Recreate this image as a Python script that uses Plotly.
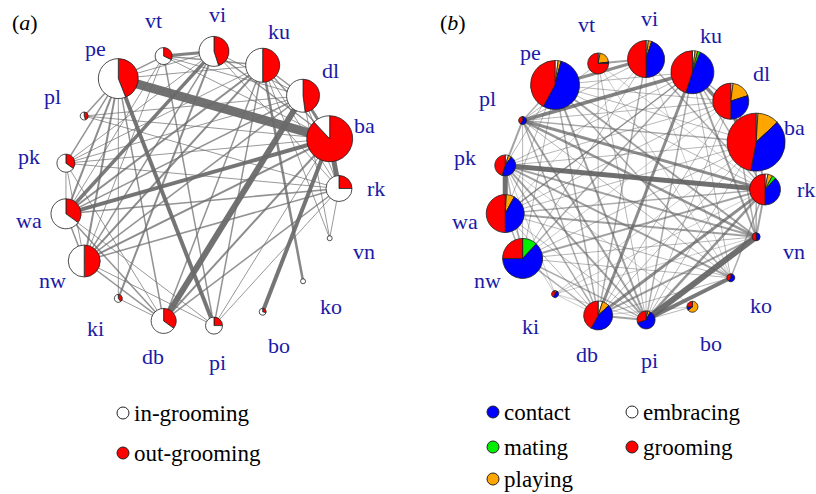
import math
import plotly.graph_objects as go

# ---------------- data ----------------
nodes = ["rk", "ba", "dl", "ku", "vi", "vt", "pe", "pl", "pk", "wa",
         "nw", "ki", "db", "pi", "bo", "ko", "vn"]

# panel (a): node size (strength) and in/out-grooming shares
size_a = [13, 23, 16.5, 17, 15, 8.5, 20, 4, 9, 15, 16, 4, 12.5, 8.5, 3.5, 2.5, 2.5]
in_groom = [0.75, 0.12, 0.52, 0.50, 0.55, 0.68, 0.56, 0.55, 0.65, 0.65,
            0.50, 0.60, 0.65, 0.75, 0.70, 1.0, 1.0]
out_groom = [0.25, 0.88, 0.48, 0.50, 0.45, 0.32, 0.44, 0.45, 0.35, 0.35,
             0.50, 0.40, 0.35, 0.25, 0.30, 0.0, 0.0]

edges_a = [
    ("pe", "ba", 9), ("db", "dl", 6), ("ba", "rk", 5), ("pe", "pi", 4), ("ba", "bo", 4),
    ("wa", "ba", 4), ("wa", "vi", 3.5), ("vi", "vt", 3), ("dl", "ba", 3), ("ku", "ko", 2.5),
    ("nw", "ba", 2), ("nw", "ku", 2), ("nw", "dl", 1.5), ("nw", "rk", 1.5), ("nw", "vi", 1.5),
    ("nw", "pe", 2), ("nw", "wa", 1.5), ("nw", "db", 1.5), ("nw", "pk", 1), ("wa", "pe", 2),
    ("wa", "ku", 2), ("wa", "dl", 1.5), ("wa", "rk", 1.5), ("wa", "pk", 1), ("wa", "db", 1.5),
    ("pk", "pe", 1.5), ("pk", "ba", 1), ("pk", "ku", 1), ("pk", "dl", 1), ("pk", "vi", 1),
    ("pk", "rk", 1), ("pl", "pe", 1.5), ("pl", "ba", 1), ("pl", "dl", 1), ("pe", "vt", 1.5),
    ("pe", "ku", 1), ("pe", "db", 1.5), ("pe", "vi", 1), ("ki", "vi", 2), ("ki", "pe", 1),
    ("db", "ku", 1.5), ("db", "ba", 2), ("db", "rk", 1.5), ("db", "pk", 1), ("pi", "ku", 1.5),
    ("pi", "rk", 1), ("pi", "ba", 1), ("pi", "nw", 1), ("pi", "wa", 1), ("pi", "vt", 1.5),
    ("vn", "ku", 1), ("vn", "dl", 1), ("vn", "rk", 1), ("vt", "ba", 1), ("vt", "dl", 1),
    ("vi", "dl", 1), ("vi", "ba", 1.5), ("vi", "rk", 1), ("ku", "dl", 1.5), ("ku", "ba", 1.5),
    ("ku", "rk", 1), ("dl", "rk", 1), ("vt", "ku", 1.5), ("nw", "vt", 1), ("ki", "db", 1),
    ("pl", "rk", 1), ("wa", "vt", 1),
]

# panel (b): node size and behaviour shares
size_b = [15.5, 29, 18, 21.5, 18.5, 10.5, 24.5, 4, 10.5, 19, 20, 3.5, 14.5, 9, 5.5, 4, 4]
grooming = [0.50, 0.47, 0.50, 0.45, 0.50, 0.75, 0.42, 0.40, 0.45, 0.50,
            0.25, 0.40, 0.42, 0.30, 0.25, 0.40, 0.50]
contact = [0.38, 0.40, 0.30, 0.49, 0.45, 0.02, 0.54, 0.60, 0.45, 0.42,
           0.63, 0.50, 0.45, 0.62, 0.10, 0.55, 0.50]
mating = [0.04, 0.0, 0.0, 0.02, 0.0, 0.0, 0.0, 0.0, 0.0, 0.0,
          0.12, 0.0, 0.0, 0.0, 0.0, 0.0, 0.0]
playing = [0.05, 0.12, 0.18, 0.02, 0.03, 0.20, 0.02, 0.0, 0.05, 0.07,
           0.0, 0.0, 0.08, 0.05, 0.65, 0.0, 0.0]
embracing = [0.03, 0.01, 0.02, 0.02, 0.02, 0.03, 0.02, 0.0, 0.05, 0.01,
             0.0, 0.10, 0.05, 0.03, 0.0, 0.05, 0.0]

edges_b = [
    ("pk", "rk", 5), ("pl", "ku", 3.5), ("pe", "vi", 3), ("ku", "ba", 3.5), ("ku", "db", 3),
    ("pi", "vn", 6), ("pi", "ko", 4), ("pi", "rk", 2.5), ("db", "rk", 3), ("db", "vn", 2),
    ("pk", "wa", 5), ("pl", "rk", 3), ("pl", "vn", 2.5), ("pl", "pi", 2), ("pl", "db", 1.5),
    ("pe", "pi", 2), ("pe", "db", 1.5), ("pe", "ko", 1.5), ("pe", "vn", 2), ("ku", "vn", 2),
    ("ku", "pi", 1.5), ("nw", "rk", 2), ("wa", "rk", 1.5), ("wa", "vn", 2), ("pk", "vn", 2),
    ("pk", "ko", 2), ("pk", "pi", 2), ("pk", "db", 1.5), ("nw", "ku", 1.5), ("wa", "ku", 1.5),
    ("nw", "pk", 1.5), ("nw", "pi", 1.5), ("nw", "db", 1.5), ("db", "pi", 2), ("rk", "vn", 2),
    ("rk", "ko", 1.5), ("ba", "rk", 2), ("ba", "vn", 1.5), ("vi", "rk", 1.5), ("vt", "vi", 2),
    ("pl", "pk", 2), ("pe", "pl", 1.5), ("dl", "vn", 1.5), ("vi", "db", 1.5), ("pl", "ba", 1.5),
    ("pe", "rk", 1), ("pe", "ba", 1), ("pe", "ku", 1), ("pe", "dl", 1), ("vt", "db", 1),
    ("vt", "pi", 1), ("vt", "rk", 0.8), ("vt", "ko", 0.8), ("vi", "pi", 1), ("vi", "nw", 1),
    ("vi", "wa", 0.8), ("vi", "ko", 0.8), ("ku", "wa", 1), ("ku", "ko", 1), ("ku", "rk", 1.5),
    ("dl", "pi", 1), ("dl", "db", 1), ("dl", "wa", 1), ("dl", "pk", 1), ("dl", "nw", 0.8),
    ("ba", "pk", 1), ("ba", "wa", 1), ("ba", "nw", 1), ("ba", "db", 1), ("ba", "pi", 1),
    ("ba", "ki", 0.8), ("rk", "ki", 0.8), ("vn", "ki", 0.8), ("vn", "nw", 1), ("ko", "nw", 1),
    ("ko", "wa", 1), ("ko", "db", 1), ("bo", "pi", 1), ("bo", "db", 0.8), ("bo", "pk", 0.8),
    ("ki", "pi", 0.8), ("ki", "db", 0.8), ("ki", "pk", 0.8), ("ki", "wa", 0.8), ("nw", "wa", 1.5),
    ("nw", "pl", 1), ("wa", "pi", 1), ("wa", "db", 1), ("pk", "ku", 1), ("pl", "ko", 1),
    ("pl", "dl", 1), ("pe", "nw", 1), ("pe", "wa", 1), ("pe", "pk", 1), ("vt", "pl", 1),
    ("vi", "pl", 1), ("ku", "dl", 1.5), ("dl", "ba", 1.5),
]

legend_a = ["in-grooming", "out-grooming"]
legend_b = ["contact", "mating", "playing", "embracing", "grooming"]

# ---------------- styling ----------------
W, H = 816, 494
RED, BLUE, GREEN, ORANGE, WHITE = "#FF0000", "#0000FF", "#00EE00", "#FFA500", "#FFFFFF"
LABEL_COL = "#1a1aa6"
SERIF = "Liberation Serif, Times New Roman, serif"

panels = {
    "a": dict(cx=201.3, cy=188.5, R=137.7, LR=175),
    "b": dict(cx=634.0, cy=189.5, R=131.0, LR=172),
}

n = len(nodes)


def pos(panel, i, radius=None):
    p = panels[panel]
    r = p["R"] if radius is None else radius
    ang = 2 * math.pi * i / n
    return p["cx"] + r * math.cos(ang), p["cy"] - r * math.sin(ang)


idx = {name: i for i, name in enumerate(nodes)}
fig = go.Figure()


def add_edges(panel, edges, color_fn):
    groups = {}
    for a, b, w in edges:
        groups.setdefault(w, []).append((a, b))
    for w in sorted(groups):
        xs, ys = [], []
        for a, b in groups[w]:
            x0, y0 = pos(panel, idx[a])
            x1, y1 = pos(panel, idx[b])
            xs += [x0, x1, None]
            ys += [y0, y1, None]
        fig.add_trace(go.Scatter(x=xs, y=ys, mode="lines",
                                 line=dict(color=color_fn(w), width=w),
                                 hoverinfo="skip", showlegend=False))


add_edges("a", edges_a, lambda w: "rgba(105,105,105,%.2f)" % min(0.95, 0.6 + 0.08 * w))
add_edges("b", edges_b, lambda w: "rgba(95,95,95,%.2f)" % min(0.9, 0.32 + 0.13 * w))


def add_pie(panel, i, r, values, colors):
    # slices laid out clockwise starting at 12 o'clock
    x, y = pos(panel, i)
    fig.add_trace(go.Pie(
        values=values, sort=False, direction="clockwise", rotation=0,
        marker=dict(colors=colors, line=dict(color="#222222", width=0.8)),
        textinfo="none", hoverinfo="skip", showlegend=False,
        domain=dict(x=[(x - r) / W, (x + r) / W], y=[1 - (y + r) / H, 1 - (y - r) / H]),
    ))


for i in range(n):
    add_pie("a", i, size_a[i], [out_groom[i], in_groom[i]], [RED, WHITE])
    add_pie("b", i, size_b[i],
            [embracing[i], playing[i], mating[i], contact[i], grooming[i]],
            [WHITE, ORANGE, GREEN, BLUE, RED])

annotations = []
for panel in ("a", "b"):
    for i, name in enumerate(nodes):
        lx, ly = pos(panel, i, panels[panel]["LR"])
        annotations.append(dict(x=lx, y=ly, xref="x", yref="y", text=name, showarrow=False,
                                font=dict(family=SERIF, size=22, color=LABEL_COL),
                                xanchor="center", yanchor="middle"))

annotations.append(dict(x=25, y=22, xref="x", yref="y", text="(<i>a</i>)", showarrow=False,
                        font=dict(family=SERIF, size=22, color="black")))
annotations.append(dict(x=453, y=22, xref="x", yref="y", text="(<i>b</i>)", showarrow=False,
                        font=dict(family=SERIF, size=22, color="black")))

# legends
leg_items = [
    (123, 413, WHITE, legend_a[0]), (123, 453, RED, legend_a[1]),
    (493, 412, BLUE, legend_b[0]), (493, 447, GREEN, legend_b[1]), (493, 479, ORANGE, legend_b[2]),
    (632, 412, WHITE, legend_b[3]), (632, 447, RED, legend_b[4]),
]
fig.add_trace(go.Scatter(
    x=[it[0] for it in leg_items], y=[it[1] for it in leg_items], mode="markers",
    marker=dict(size=12, color=[it[2] for it in leg_items], line=dict(color="#222222", width=1)),
    hoverinfo="skip", showlegend=False))
for x, y, c, t in leg_items:
    annotations.append(dict(x=x + 9, y=y, xref="x", yref="y", text=t, showarrow=False,
                            xanchor="left", yanchor="middle",
                            font=dict(family=SERIF, size=23, color="black")))

fig.update_layout(
    width=W, height=H, margin=dict(l=0, r=0, t=0, b=0),
    paper_bgcolor="white", plot_bgcolor="white",
    xaxis=dict(range=[0, W], visible=False, fixedrange=True),
    yaxis=dict(range=[H, 0], visible=False, fixedrange=True),
    annotations=annotations, showlegend=False,
)
fig.write_html("out.html", config={"displayModeBar": False},
               post_script="document.body.style.margin='0';document.body.style.overflow='hidden';")
